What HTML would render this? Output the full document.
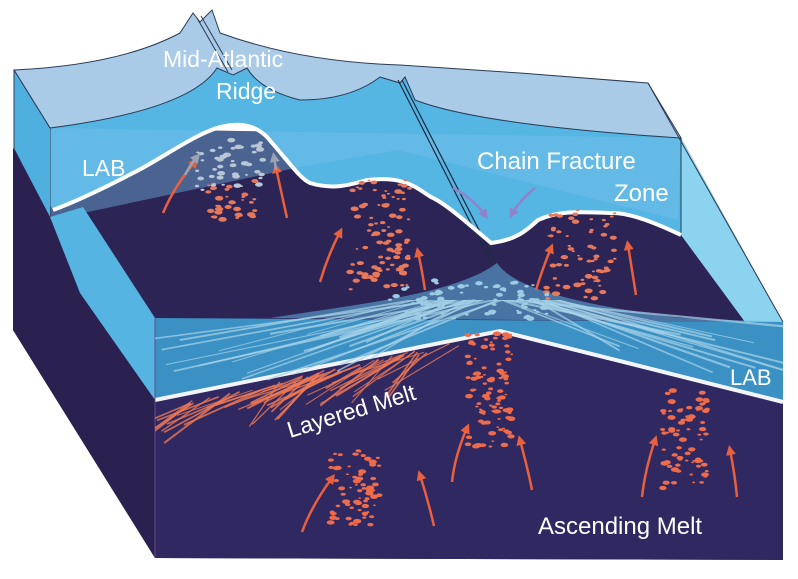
<!DOCTYPE html>
<html><head><meta charset="utf-8">
<style>
html,body{margin:0;padding:0;background:#fff;}
svg{display:block;}
text{font-family:"Liberation Sans",sans-serif;fill:#fff;}
</style></head>
<body>
<svg id="s" width="798" height="579" viewBox="0 0 798 579" xmlns="http://www.w3.org/2000/svg">
<defs>
<marker id="ao" viewBox="0 0 10 10" refX="5" refY="5" markerWidth="4" markerHeight="4" orient="auto"><path d="M0,0 L10,5 L0,10 z" fill="#e8603e"/></marker>
<marker id="ag" viewBox="0 0 10 10" refX="5" refY="5" markerWidth="4" markerHeight="4" orient="auto"><path d="M0,0 L10,5 L0,10 z" fill="#9aa3b3"/></marker>
<marker id="ap" viewBox="0 0 10 10" refX="5" refY="5" markerWidth="4" markerHeight="4" orient="auto"><path d="M0,0 L10,5 L0,10 z" fill="#8f83cc"/></marker>
<clipPath id="cf"><polygon points="155,300 783,300 783,560 155,560"/></clipPath>
<clipPath id="cl"><polygon points="155,330 500,331 500,470 155,470"/></clipPath>
</defs>
<!-- dark body -->
<polygon points="14,148 50,128 681,138 783,322 783,560 155,558 13,330" fill="#2d2456"/>
<!-- lithosphere medium blue -->
<path d="M14,70 Q120,65 180,33 L193,13 L200,22 L212,10 L220,33 Q300,62 400,65 L648,83 L681,138 L681,235 C660,225 630,212 611,213 C580,212 560,210 538,220 C525,232 515,240 491,243 C470,225 445,203 431,197 C415,187 405,176 367,180 C350,185 333,190 310,183 C300,178 293,167 267,137 C255,125 240,123 225,126 C200,130 160,160 133,173 C110,185 80,200 53,210 L14,148 Z" fill="#55b5e3"/>
<!-- tint above L -->
<polygon points="50,128 681,138 678,220 398,150 300,167 50,220" fill="rgba(120,195,235,0.4)"/>
<!-- sea surface -->
<path d="M14,70 Q120,65 180,33 L193,13 L200,22 L212,10 L220,33 Q300,62 400,65 L520,73 L648,83 L681,138 Q480,125 415,100 L405,77 L400,83 L380,77 Q350,100 300,100 Q260,90 247,68 L233,75 L217,68 Q190,110 50,128 Z" fill="#a9cbe8" stroke="#2b3a55" stroke-width="1"/>
<!-- ridge crack lines -->
<path d="M197,18 L228,72 M201,16 L232,70" stroke="#2b3a55" stroke-width="1" fill="none"/>
<path d="M398,80 L492,265 M402,80 L497,265" stroke="#1d2a40" stroke-width="1.2" fill="none"/>
<line x1="50" y1="128" x2="50" y2="217" stroke="#2b3a55" stroke-width="1"/>
<!-- right face -->
<polygon points="681,138 783,322 745,322 681,235" fill="#8bd3ef"/>
<line x1="648" y1="83" x2="783" y2="322" stroke="#2b3a55" stroke-width="1"/>
<line x1="681" y1="138" x2="681" y2="235" stroke="#2b3a55" stroke-width="1"/>
<!-- left upper face -->
<polygon points="14,70 50,128 50,217 14,148" fill="#4fb0e0"/>
<line x1="14" y1="70" x2="50" y2="128" stroke="#2b3a55" stroke-width="1"/>
<line x1="14" y1="70" x2="14" y2="330" stroke="#2b3a55" stroke-width="1"/>
<!-- back LAB -->
<path d="M53,210 C80,200 110,185 133,173 C160,160 200,130 225,126 C240,123 255,125 267,137 C293,167 300,178 310,183 C333,190 350,185 367,180 C405,176 415,187 431,197 C445,203 470,225 491,243 C515,240 525,232 538,220 C560,210 580,212 611,213 C630,212 660,225 681,235" fill="none" stroke="#fff" stroke-width="4"/>
<!-- left faces -->
<polygon points="13,148 50,217 80,293 155,400 155,558 13,330" fill="#2a2150"/>
<polygon points="50,217 83,207 155,318 155,400 80,293" fill="#55b4e2"/>
<!-- slab top -->
<path d="M270,318 C350,305 455,295 497,263 C512,285 560,302 680,318 L783,322 Z" fill="rgba(95,180,225,0.55)"/>
<!-- slab front face -->
<polygon points="155,318 783,322 783,402 500,331 155,400" fill="#3b91c4"/>
<!-- front mantle -->
<polygon points="155,400 500,331 783,402 783,560 155,558" fill="#302860"/>
<polyline points="155,400 500,331 783,402" fill="none" stroke="#f2f4fa" stroke-width="4"/>
<line x1="155" y1="318" x2="155" y2="558" stroke="#6a4c8a" stroke-width="1"/>
<g id="streaks"></g>
<g id="dots"></g>
<!-- arrows -->
<g fill="none" stroke-width="2.5">
<path d="M163,213 Q175,185 195,162" stroke="#e8603e" marker-end="url(#ao)"/>
<path d="M287,218 Q282,195 276,168" stroke="#e8603e" marker-end="url(#ao)"/>
<path d="M185,175 Q190,165 197,157" stroke="#9aa3b3" marker-end="url(#ag)"/>
<path d="M276,170 Q275,163 274,157" stroke="#9aa3b3" marker-end="url(#ag)"/>
<path d="M320,282 Q328,255 340,232" stroke="#e8603e" marker-end="url(#ao)"/>
<path d="M425,290 Q422,270 418,252" stroke="#e8603e" marker-end="url(#ao)"/>
<path d="M536,290 Q542,270 551,248" stroke="#e8603e" marker-end="url(#ao)"/>
<path d="M636,295 Q632,270 628,245" stroke="#e8603e" marker-end="url(#ao)"/>
<path d="M453,188 Q475,200 485,215" stroke="#8f83cc" marker-end="url(#ap)"/>
<path d="M535,188 Q520,200 512,214" stroke="#8f83cc" marker-end="url(#ap)"/>
<path d="M302,532 Q312,505 332,478" stroke="#e8603e" marker-end="url(#ao)"/>
<path d="M434,526 Q428,500 420,475" stroke="#e8603e" marker-end="url(#ao)"/>
<path d="M452,482 Q455,455 467,428" stroke="#e8603e" marker-end="url(#ao)"/>
<path d="M532,490 Q528,470 520,440" stroke="#e8603e" marker-end="url(#ao)"/>
<path d="M642,497 Q645,470 655,440" stroke="#e8603e" marker-end="url(#ao)"/>
<path d="M737,497 Q735,475 730,450" stroke="#e8603e" marker-end="url(#ao)"/>
</g>
<!-- labels -->
<text x="163" y="67" font-size="23">Mid-Atlantic</text>
<text x="216" y="99" font-size="23">Ridge</text>
<text x="82" y="176" font-size="23">LAB</text>
<text x="477" y="169" font-size="24">Chain Fracture</text>
<text x="614" y="201" font-size="24">Zone</text>
<text x="730" y="385" font-size="22">LAB</text>
<text x="290" y="438" font-size="23" transform="rotate(-17 290 438)">Layered Melt</text>
<text x="538" y="534" font-size="24">Ascending Melt</text>
</svg>
<script>
(function(){
var ns="http://www.w3.org/2000/svg";
var seed=7;function r(){seed=(seed*16807)%2147483647;return seed/2147483647;}
var d=document.getElementById("dots"),st=document.getElementById("streaks");
function cluster(cx,cy,w,h,n,col){for(var i=0;i<n;i++){var e=document.createElementNS(ns,"ellipse");e.setAttribute("cx",cx+(r()-0.5)*w);e.setAttribute("cy",cy+(r()-0.5)*h);var s=1+r()*2;e.setAttribute("rx",s*1.4);e.setAttribute("ry",s*0.8);e.setAttribute("fill",col);d.appendChild(e);}}
cluster(232,165,70,50,45,"#b9c6d6");
cluster(232,200,50,40,35,"#e8785a");
cluster(380,235,60,110,90,"#e8785a");
cluster(580,255,70,90,70,"#e8785a");
cluster(490,390,45,120,100,"#ee6c4c");
cluster(355,488,50,75,70,"#ee6c4c");
cluster(685,440,45,100,75,"#ee6c4c");
cluster(470,300,160,40,70,"#9ccbe3");
var g1=document.createElementNS(ns,"g");g1.setAttribute("clip-path","url(#cl)");st.appendChild(g1);
var g2=document.createElementNS(ns,"g");g2.setAttribute("clip-path","url(#cf)");st.appendChild(g2);
for(var i=0;i<50;i++){var l=document.createElementNS(ns,"line");var t=r();var x1=190+t*280,y1=400-t*62+r()*6;l.setAttribute("x1",x1);l.setAttribute("y1",y1);l.setAttribute("x2",x1-30-r()*50);l.setAttribute("y2",y1+20+r()*30);l.setAttribute("stroke","#f07a55");l.setAttribute("stroke-width",1+r());l.setAttribute("opacity",0.8);g1.appendChild(l);}
for(var i=0;i<40;i++){var l=document.createElementNS(ns,"line");var side=r()<0.6?-1:1;l.setAttribute("x1",495+(r()-0.5)*20);l.setAttribute("y1",280+r()*20);l.setAttribute("x2",495+side*(120+r()*230));l.setAttribute("y2",330+r()*50);l.setAttribute("stroke","#a9d4ea");l.setAttribute("stroke-width",0.8+r()*1.5);l.setAttribute("opacity",0.7);g2.appendChild(l);}
})();
</script>
</body></html>
